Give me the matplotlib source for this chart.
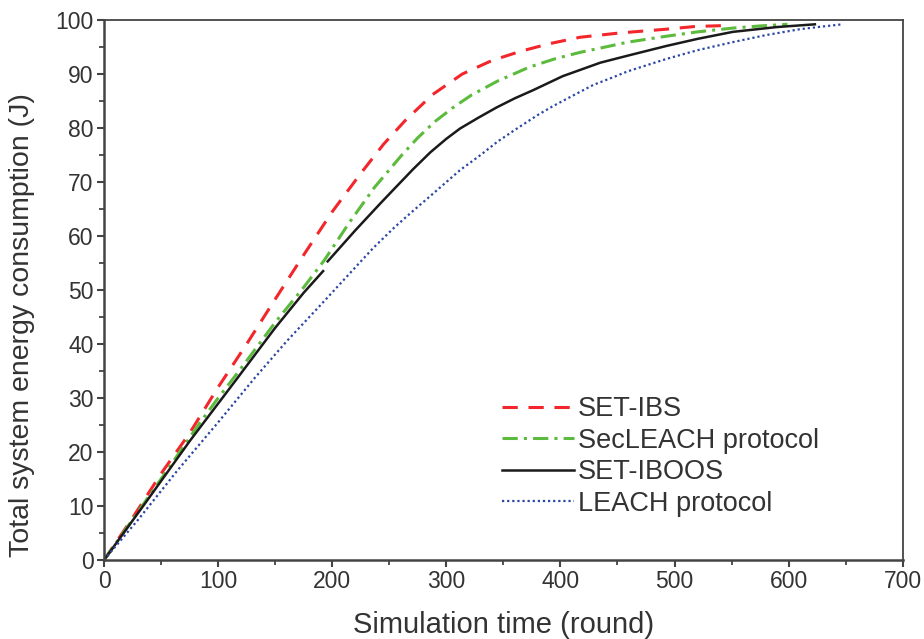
import matplotlib
matplotlib.use("Agg")
import matplotlib.pyplot as plt
from matplotlib.ticker import MultipleLocator

plt.rcParams['font.family'] = ['Liberation Sans', 'DejaVu Sans']

# Data
ibs_x = [0, 25, 50, 75, 100, 125, 150, 175, 200, 225, 245, 264, 288, 314, 340, 365, 390, 417,
         452, 493, 518, 549]
ibs_y = [0, 7.8, 16.0, 23.5, 32.0, 40.0, 48.3, 56.5, 64.5, 71.6, 77.0, 81.4, 86.2, 90.0, 92.5,
         94.2, 95.6, 96.8, 97.6, 98.3, 98.8, 99.0]

sec_x = [0, 25, 50, 84, 100, 119, 150, 175, 193, 215, 237, 245, 261, 275, 290, 306, 322, 345,
         373, 395, 417, 435, 459, 493, 520, 551, 575, 599]
sec_y = [0, 7.5, 15.0, 25.4, 30.0, 35.2, 44.0, 50.5, 55.5, 62.5, 69.0, 71.0, 75.0, 78.2, 81.2,
         83.8, 86.1, 88.7, 91.3, 92.8, 94.0, 94.8, 95.9, 97.0, 97.8, 98.5, 98.9, 99.2]

# the SET-IBOOS curve has a small break near round 194 (nan marks it)
iboos_x = [0, 37, 75, 118, 150, 175, 192, 194, 196, 220, 242, 256, 271, 286, 300, 312, 328,
           344, 360, 376, 402, 435, 459, 493, 520, 551, 590, 623]
iboos_y = [0, 10.8, 22.0, 34.0, 43.0, 49.5, 53.5, float('nan'), 55.3, 61.0, 66.0, 69.1, 72.4,
           75.5, 78.0, 79.9, 81.9, 83.8, 85.5, 87.0, 89.6, 92.1, 93.4, 95.2, 96.5, 97.8, 98.7, 99.2]

leach_x = [0, 30, 64, 100, 132, 160, 191, 215, 236, 255, 270, 287, 312, 330, 345, 359, 380,
           393, 410, 429, 445, 459, 493, 520, 551, 580, 610, 630, 647]
leach_y = [0, 7.5, 16.5, 25.5, 33.7, 40.5, 47.5, 53.0, 57.8, 61.7, 64.5, 67.6, 72.2, 75.0, 77.5,
           79.5, 82.4, 84.0, 85.9, 88.0, 89.3, 90.5, 92.8, 94.4, 95.9, 97.2, 98.3, 98.8, 99.2]

labels = ["SET-IBS", "SecLEACH protocol", "SET-IBOOS", "LEACH protocol"]

fig = plt.figure(figsize=(9.24, 6.39), dpi=100)
ax = fig.add_axes([0.1126, 0.1236, 0.8644, 0.8451])

ax.plot(ibs_x, ibs_y, color='#f2262b', lw=2.2, dashes=(5, 3.5), label=labels[0])
ax.plot(sec_x, sec_y, color='#5cbb3c', lw=2.2, dashes=(5, 2, 1, 2), label=labels[1])
ax.plot(iboos_x, iboos_y, color='#1a1a1a', lw=1.8, label=labels[2])
ax.plot(leach_x, leach_y, color='#2b47a3', lw=1.6, dashes=(1, 1.3), label=labels[3])

ax.set_xlim(0, 700)
ax.set_ylim(0, 100)
ax.xaxis.set_major_locator(MultipleLocator(100))
ax.xaxis.set_minor_locator(MultipleLocator(50))
ax.yaxis.set_major_locator(MultipleLocator(10))
ax.yaxis.set_minor_locator(MultipleLocator(5))

for s in ax.spines.values():
    s.set_color('#444444')
    s.set_linewidth(1.3)
ax.spines['left'].set_linewidth(1.8)
ax.spines['bottom'].set_linewidth(1.8)

ax.tick_params(which='major', direction='out', length=5, width=1.5, colors='#444444',
               labelsize=16.5, labelcolor='#333333', top=False, right=False, pad=2.5)
ax.tick_params(which='minor', direction='out', length=3.5, width=1.3, colors='#444444',
               top=False, right=False)

ax.set_xlabel("Simulation time (round)", fontsize=21, color='#333333', labelpad=13)
ax.set_ylabel("Total system energy consumption (J)", fontsize=20.5, color='#333333')
ax.yaxis.set_label_coords(-0.086, 0.435)

leg = ax.legend(loc='lower left', bbox_to_anchor=(0.468, 0.035), frameon=False,
                fontsize=19.5, handlelength=2.65, handletextpad=0.15, labelspacing=0.2,
                labelcolor='#333333')

fig.savefig("out.png", dpi=100)
